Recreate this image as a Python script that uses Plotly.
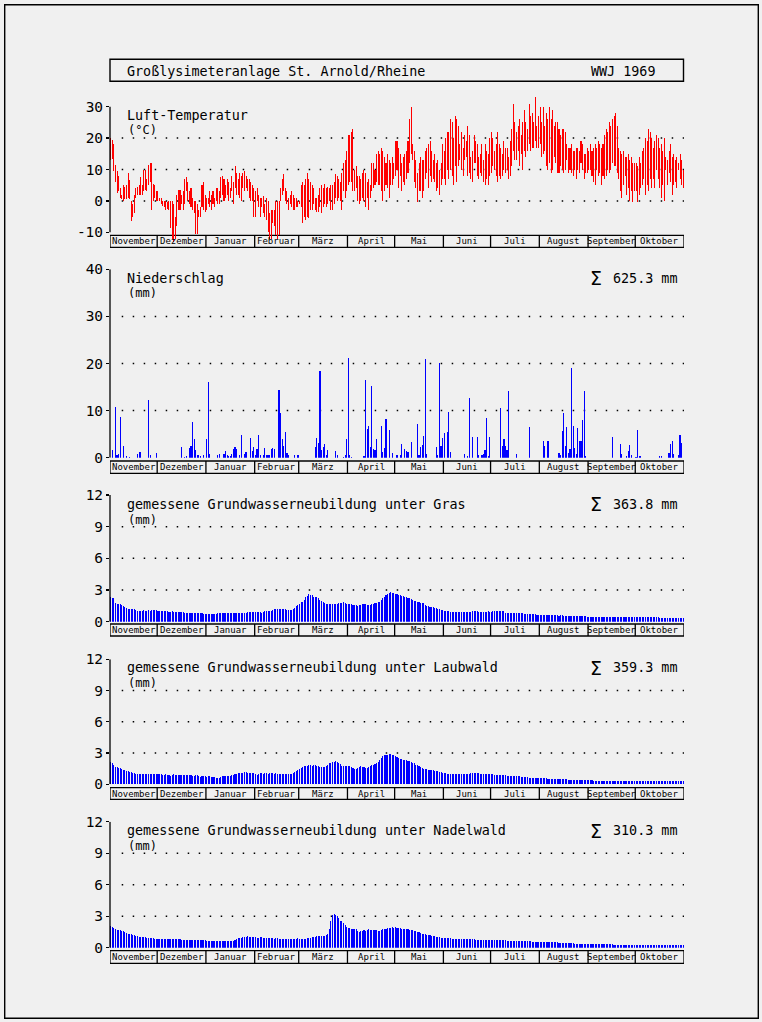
import plotly.graph_objects as go

# ---------------- data ----------------
months = ["November", "Dezember", "Januar", "Februar", "März", "April",
          "Mai", "Juni", "Juli", "August", "September", "Oktober"]
month_days = [30, 31, 31, 28, 31, 30, 31, 30, 31, 31, 30, 31]

# daily max / min air temperature (°C), Nov 1968 - Oct 1969
tmax = [
    20, 19.5, 18, 11.5, 9.5, 8, 4, 2, 5, 4.5, 5, 9, 6.5, 0, -1, 2, 4, 4.5, 5, 7.5, 5, 10, 10, 7, 11.5, 12, 12, 5.5, 5, 3,
    3, 1, 1, 0, 0, 0, -0.5, 0, 0, 0, -1, -5, 2, 3.5, 3.5, 2, 3, 7, 7.5, 6, 3, 4, 1, 0, 0, -1, -3, -2, 5, 6, 2,
    1, 1, 3, 2, 3, 1, 4, 4, 3, 7.5, 8, 7, 5, 7, 6, 4, 8, 6, 11, 9, 7, 9, 8, 9, 9.5, 8, 7, 7, 6, 5, 4,
    3, 4, 2, 1, 1, 1.5, -1, 1, 0, -4, -3, -3, -3, 0, 0, 0, 4, 7, 8.5, 4, 3, 1, 2, 3, 2, 1, 1, 0,
    0, 5, 6, 5, 7, 9, 7, 6, 5, 4, 1, 1, 2, 4, 5, 4, 5.5, 4, 4.5, 4, 5, 5, 6, 8.5, 8, 7, 6, 9, 12, 13, 16,
    21, 21, 22, 23, 10, 11, 8, 8, 7, 9, 10, 9, 6, 7, 5, 12, 12, 10, 15, 16, 15, 17, 16, 14, 12, 15, 13, 12, 14, 12,
    19, 19, 17, 15, 12, 14, 15, 16, 19, 26, 30, 18, 16, 13, 9, 12, 14, 13, 13, 16, 17, 18, 19, 16, 13, 15, 12, 13, 10, 12, 18,
    16, 20, 22, 22, 26, 25, 20, 27, 26, 24, 18, 22, 17, 21, 19, 24, 21, 14, 16, 21, 19, 18, 14, 15, 18, 13, 18, 16, 15, 20,
    22, 20, 16, 18, 22, 18, 17, 15, 19, 17, 17, 14, 19, 23, 31, 25, 22, 24, 26, 21, 25, 29, 25, 23, 31, 27, 28, 25, 33, 24, 27,
    30, 25, 30, 24, 28, 26, 30, 26, 29, 24, 25, 25, 23, 21, 23, 23, 22, 18, 17, 17, 18, 16, 16, 17, 17, 16, 19, 18, 15, 15, 17,
    16, 18, 16, 17, 18, 17, 19, 18, 17, 18, 21, 23, 22, 25, 24, 26, 27, 28, 24, 17, 16, 15, 16, 14, 14, 15, 13, 14, 12, 12,
    12, 11, 14, 12, 16, 17, 20, 19, 23, 22, 20, 17, 19, 21, 20, 17, 18, 16, 20, 14, 13, 16, 18, 14, 15, 13, 14, 12, 15, 13, 10,
]
tmin = [
    13, 13.5, 9.5, 6, 2.5, 3, 1, 0.5, 0, 0.5, 0.5, 1, 0.5, -6.5, -5, -4, 1, 2, 2, 2, 2, 3, 3.5, 3, 5, 6, -3, 0, 1, 0,
    0, 0, -1, -1.5, -2, -3, -2.5, -3, -8.5, -12, -13, -12, -8, -3, -3, -1, -3, -1, 3, 0, -1, -2, -3, -4, -10.5, -10.5, -5, -5, -2, -3, -3.5,
    -3, -1, -2, -3, -1, -2, 0, -1, -1, 1, 2, 0, 1, 2, 0, 1, 3, -1, 4, 2, 2, 1, 0, 4, 3, 4, 3, 1, 0, 0, -5,
    -5, 0, -2, -5, -2, -4, -5, -6, -10, -12, -12, -7, -8, -11, -12, -11, 0, 2, 3, 0, -1, -3, -1, -2, -3, -3, -2, -2,
    -1, -2, -7, -5, -6, -5, -5.5, -3, -3, -1, -3, -3.5, -3.5, -2, -4, -2, -1, -2, -1, 0, -3, -3, -1, 1, 0, 1, 0, -3, 3, 1, 3,
    5, 6, 6, 3, 3, 4, 0, -1, 0, 1, 0, -2, 1, -3, 1, 3, 4, 5, 6, 5, 5, 3, 0, 3, 5, 4, 1, 5, 5, 7,
    8, 10, 4, 8, 3, 6, 5, 7, 9, 12, 15, 13, 6, 4, -0.5, 3, 3, 1, 3, 7, 9, 4, 8, 6, 7, 6, 3, 4, 2, 5, 7,
    7, 5, 10, 7, 10, 8, 5, 11, 6, 11, 13, 10, 8, 13, 14, 8, 9, 7, 6, 12, 12, 8, 7, 9, 8, 6, 5, 7, 5, 8,
    9, 11, 10, 8, 6, 8, 7, 8, 10, 9, 10, 7, 8, 11, 16, 13, 13, 16, 11, 15, 10, 16, 14, 16, 18, 16, 17, 17, 19, 17, 17,
    18, 14, 15, 16, 11, 10, 12, 9, 10, 14, 12, 9, 9, 11, 10, 9, 10, 13, 9, 10, 9, 8, 10, 7, 10, 9, 12, 10, 7, 9, 9,
    10, 10, 8, 6, 5, 10, 8, 9, 5, 8, 7, 8, 10, 9, 10, 12, 11, 11, 9, 7, 3, 1, 5, 8, 2, 4, 0, 3, -0.5, 3,
    3, -0.5, 2, 4, 5, 7, 2, 5, 3, 7, 4, 7, 4, 10, 7, 4, 1, 5, 0, 10, 5, 9, 6, 2, 5, 6, 4, 10, 7, 5, 4,
]

# daily precipitation (mm): day of hydrological year (0 = 1 Nov) and amount
precip_day = [
    1, 3, 4, 5, 6, 8, 10, 12, 17, 18, 19, 24, 25, 29,
    45, 47, 48, 50, 51, 52, 53, 54, 55, 56, 57, 59,
    61, 62, 63, 68, 69, 72, 73, 74, 75, 76, 77, 78, 79, 80, 82, 83, 85, 86, 89, 90, 91,
    92, 93, 94, 95, 97, 98, 99, 100, 101, 102, 103, 104, 107, 108, 109, 110, 111, 112, 113, 117, 119,
    130, 131, 132, 133, 134, 135, 136, 137, 138, 143, 144, 148, 149, 150,
    151, 152, 153, 161, 162, 163, 164, 165, 166, 167, 168, 169, 172, 173, 174, 175, 177, 179,
    182, 184, 185, 187, 188, 189, 191, 195, 196, 197, 198, 199, 200, 201, 207, 208, 209, 210, 211,
    212, 214, 215, 216, 225, 227, 228, 230, 233, 234, 236, 237, 238, 239, 240, 241,
    248, 249, 250, 251, 252, 253, 258, 266,
    275, 276, 278, 285, 286, 287, 288, 289, 290, 291, 292, 293, 294, 295, 296, 297, 298, 299, 300, 301, 302,
    319, 324, 325, 328, 329, 330, 331,
    334, 335, 336, 337, 349, 350, 355, 356, 357, 358, 361, 362, 363,
]
precip_mm = [
    1.6, 10.8, 0.5, 0.7, 8.6, 2.5, 0.4, 0.2, 0.7, 1.2, 1.2, 12.2, 0.5, 1.0,
    2.3, 0.2, 0.3, 2.1, 2.4, 7.5, 3.9, 1.6, 0.6, 0.5, 0.3, 0.6,
    4.0, 16.0, 0.8, 0.5, 0.8, 0.8, 1.4, 0.5, 0.3, 0.3, 0.7, 1.8, 2.3, 1.8, 0.6, 4.8, 0.8, 1.2, 4.2, 1.5, 2.2,
    0.5, 1.8, 4.8, 0.6, 0.5, 2.0, 0.5, 0.5, 0.6, 1.8, 2.0, 1.8, 14.3, 9.5, 3.9, 2.5, 5.4, 1.0, 0.5, 0.5, 0.6,
    2.2, 4.2, 3.1, 18.4, 1.6, 2.3, 2.9, 0.6, 1.6, 1.4, 0.5, 0.2, 0.5, 4.0,
    21.1, 0.5, 0.2, 0.4, 16.5, 6.1, 6.8, 2.3, 15.2, 1.8, 1.6, 4.0, 6.8, 1.2, 2.0, 8.2, 5.9, 0.9,
    0.5, 0.6, 2.9, 1.9, 1.5, 1.3, 3.4, 7.2, 0.6, 2.3, 2.7, 4.6, 21.0, 0.8, 2.3, 0.5, 20.1, 2.5, 4.2,
    5.3, 5.5, 9.6, 1.3, 0.8, 0.4, 12.6, 4.5, 4.5, 0.5, 0.5, 0.8, 1.7, 8.4, 0.3, 4.3,
    10.6, 2.5, 4.0, 2.5, 1.7, 14.2, 0.8, 6.5,
    3.5, 2.5, 3.5, 0.9, 0.5, 5.7, 9.5, 2.4, 6.6, 0.9, 1.9, 19.0, 6.7, 2.1, 0.7, 6.2, 3.6, 3.5, 8.0, 14.2, 0.4,
    4.5, 2.9, 0.7, 0.4, 1.4, 2.7, 0.6,
    0.2, 5.9, 0.4, 0.4, 0.4, 0.4, 1.0, 2.9, 3.5, 0.8, 0.5, 4.8, 3.1,
]

# daily groundwater recharge (mm)
gw_gras = [
    2.3, 2.2, 2.25, 1.75, 1.7, 1.7, 1.65, 1.55, 1.45, 1.35, 1.3, 1.2, 1.2, 1.2, 1.2, 1.2, 1.15, 1.05, 1.05, 1.0, 1.05, 1.1, 1.05, 1.05, 1.1, 1.05, 1.1, 1.1, 1.1, 1.1,
    1.0, 1.0, 1.0, 1.0, 1.0, 1.0, 1.0, 0.95, 0.95, 1.0, 0.95, 0.9, 0.9, 0.9, 0.95, 0.9, 0.9, 0.85, 0.85, 0.85, 0.8, 0.85, 0.85, 0.8, 0.8, 0.8, 0.8, 0.8, 0.8, 0.75, 0.75,
    0.75, 0.75, 0.7, 0.7, 0.7, 0.7, 0.75, 0.8, 0.8, 0.8, 0.8, 0.85, 0.85, 0.85, 0.85, 0.85, 0.8, 0.85, 0.85, 0.85, 0.85, 0.85, 0.85, 0.85, 0.85, 0.85, 0.9, 0.9, 0.9, 0.9, 0.9,
    0.95, 0.95, 0.9, 0.95, 0.85, 0.95, 1.0, 1.05, 1.0, 1.0, 1.05, 1.15, 1.25, 1.2, 1.2, 1.25, 1.2, 1.25, 1.25, 1.2, 1.15, 1.15, 1.15, 1.15, 1.2, 1.3, 1.45, 1.55,
    1.7, 1.85, 1.9, 2.1, 2.3, 2.45, 2.65, 2.55, 2.5, 2.35, 2.3, 2.3, 2.2, 2.1, 1.95, 1.85, 1.8, 1.7, 1.65, 1.65, 1.65, 1.7, 1.7, 1.65, 1.7, 1.75, 1.75, 1.8, 1.85, 1.75, 1.7,
    1.7, 1.7, 1.65, 1.6, 1.6, 1.55, 1.5, 1.55, 1.6, 1.7, 1.7, 1.65, 1.6, 1.55, 1.6, 1.65, 1.7, 1.75, 1.8, 1.85, 1.9, 2.05, 2.2, 2.35, 2.5, 2.6, 2.7, 2.78, 2.75, 2.7,
    2.65, 2.6, 2.55, 2.5, 2.45, 2.4, 2.35, 2.3, 2.25, 2.2, 2.15, 2.1, 2.0, 1.95, 1.9, 1.85, 1.8, 1.8, 1.75, 1.6, 1.5, 1.45, 1.4, 1.35, 1.35, 1.3, 1.3, 1.25, 1.2, 1.15, 1.1,
    1.05, 1.0, 1.0, 1.0, 0.95, 0.95, 0.95, 0.95, 0.95, 0.95, 0.9, 0.9, 0.95, 0.95, 0.95, 0.95, 0.95, 0.95, 1.0, 1.0, 1.0, 1.0, 0.95, 0.95, 0.95, 0.95, 0.95, 0.95, 1.0, 0.95,
    0.95, 1.0, 1.0, 1.0, 1.05, 1.05, 1.0, 1.0, 1.05, 0.85, 0.85, 0.85, 0.85, 0.85, 0.85, 0.8, 0.8, 0.8, 0.8, 0.8, 0.8, 0.75, 0.75, 0.75, 0.7, 0.7, 0.7, 0.7, 0.7, 0.65, 0.65,
    0.65, 0.6, 0.6, 0.6, 0.6, 0.6, 0.6, 0.6, 0.6, 0.6, 0.6, 0.6, 0.55, 0.6, 0.6, 0.55, 0.55, 0.55, 0.55, 0.55, 0.5, 0.5, 0.5, 0.5, 0.5, 0.5, 0.5, 0.5, 0.5, 0.5, 0.45,
    0.45, 0.45, 0.45, 0.45, 0.45, 0.45, 0.4, 0.4, 0.45, 0.45, 0.45, 0.45, 0.45, 0.45, 0.45, 0.4, 0.4, 0.4, 0.4, 0.4, 0.4, 0.4, 0.4, 0.4, 0.4, 0.4, 0.4, 0.4, 0.4, 0.4,
    0.4, 0.4, 0.4, 0.4, 0.4, 0.4, 0.4, 0.4, 0.4, 0.4, 0.4, 0.4, 0.4, 0.4, 0.4, 0.35, 0.35, 0.35, 0.35, 0.35, 0.35, 0.35, 0.35, 0.35, 0.35, 0.35, 0.35, 0.35, 0.35, 0.35, 0.35,
]
gw_laubwald = [
    2.1, 2.05, 1.85, 1.7, 1.65, 1.6, 1.6, 1.5, 1.4, 1.35, 1.3, 1.25, 1.2, 1.15, 1.1, 1.05, 1.0, 1.0, 1.0, 0.95, 0.95, 0.95, 1.0, 1.0, 1.0, 0.95, 0.95, 0.95, 1.0, 0.95,
    1.0, 1.0, 0.95, 0.9, 0.9, 0.95, 0.9, 0.85, 0.8, 0.85, 0.95, 0.9, 0.9, 0.85, 0.85, 0.85, 0.85, 0.85, 0.85, 0.85, 0.85, 0.85, 0.8, 0.8, 0.85, 0.85, 0.75, 0.7, 0.75, 0.75, 0.75,
    0.7, 0.75, 0.75, 0.7, 0.7, 0.7, 0.65, 0.6, 0.65, 0.7, 0.75, 0.75, 0.75, 0.8, 0.8, 0.75, 0.85, 0.85, 0.95, 1.0, 1.05, 1.05, 1.1, 1.1, 1.15, 1.15, 1.1, 1.1, 1.1, 1.05, 1.05,
    0.95, 0.9, 1.0, 1.05, 1.05, 1.0, 1.05, 1.05, 1.0, 1.05, 1.05, 1.05, 1.0, 1.05, 1.0, 1.0, 1.0, 1.0, 1.0, 1.0, 1.0, 1.0, 1.0, 1.0, 1.05, 1.15, 1.25, 1.35,
    1.45, 1.55, 1.7, 1.75, 1.8, 1.8, 1.85, 1.85, 1.8, 1.85, 1.9, 1.8, 1.75, 1.7, 1.7, 1.65, 1.7, 1.8, 1.9, 2.0, 2.05, 2.1, 2.15, 2.2, 2.15, 2.05, 1.95, 1.8, 1.75, 1.75, 1.8,
    1.8, 1.75, 1.7, 1.6, 1.5, 1.5, 1.6, 1.65, 1.75, 1.7, 1.65, 1.6, 1.6, 1.7, 1.75, 1.85, 1.85, 1.95, 2.05, 2.15, 2.3, 2.5, 2.7, 2.8, 2.85, 2.85, 2.9, 2.9, 2.85, 2.8,
    2.7, 2.6, 2.5, 2.45, 2.4, 2.35, 2.3, 2.3, 2.25, 2.2, 2.1, 2.05, 2.0, 1.9, 1.85, 1.8, 1.7, 1.6, 1.5, 1.45, 1.45, 1.4, 1.4, 1.35, 1.35, 1.3, 1.3, 1.25, 1.2, 1.15, 1.1,
    1.05, 1.05, 1.0, 1.0, 1.0, 0.95, 0.95, 0.95, 0.95, 0.95, 0.95, 0.95, 0.95, 0.95, 1.0, 1.0, 1.0, 1.05, 1.05, 1.1, 1.05, 1.05, 1.05, 1.0, 1.0, 1.0, 1.0, 1.0, 0.95, 0.95,
    0.95, 0.95, 0.9, 0.9, 0.9, 0.85, 0.85, 0.85, 0.85, 0.85, 0.8, 0.8, 0.8, 0.8, 0.8, 0.75, 0.75, 0.75, 0.75, 0.7, 0.7, 0.7, 0.7, 0.7, 0.65, 0.65, 0.65, 0.65, 0.6, 0.6, 0.6,
    0.6, 0.6, 0.6, 0.6, 0.6, 0.55, 0.55, 0.55, 0.55, 0.55, 0.5, 0.5, 0.5, 0.5, 0.5, 0.5, 0.5, 0.5, 0.45, 0.45, 0.45, 0.45, 0.45, 0.45, 0.45, 0.45, 0.4, 0.4, 0.4, 0.4, 0.4,
    0.4, 0.4, 0.4, 0.35, 0.35, 0.35, 0.35, 0.35, 0.35, 0.35, 0.35, 0.35, 0.35, 0.35, 0.35, 0.35, 0.35, 0.35, 0.35, 0.35, 0.35, 0.35, 0.35, 0.35, 0.3, 0.3, 0.3, 0.3, 0.3, 0.3,
    0.3, 0.3, 0.3, 0.3, 0.3, 0.3, 0.3, 0.3, 0.3, 0.3, 0.3, 0.3, 0.3, 0.3, 0.3, 0.3, 0.3, 0.3, 0.3, 0.3, 0.3, 0.3, 0.3, 0.3, 0.3, 0.3, 0.3, 0.3, 0.3, 0.3, 0.35,
]
gw_nadelwald = [
    2.05, 2.0, 1.9, 1.8, 1.7, 1.7, 1.65, 1.6, 1.55, 1.5, 1.4, 1.35, 1.3, 1.3, 1.25, 1.2, 1.15, 1.1, 1.05, 1.0, 1.0, 1.0, 1.0, 0.95, 0.9, 0.9, 0.9, 0.9, 0.85, 0.85,
    0.85, 0.8, 0.8, 0.8, 0.8, 0.8, 0.8, 0.8, 0.8, 0.8, 0.8, 0.8, 0.8, 0.8, 0.8, 0.75, 0.75, 0.75, 0.75, 0.75, 0.75, 0.75, 0.75, 0.75, 0.7, 0.7, 0.7, 0.7, 0.7, 0.7, 0.7,
    0.65, 0.65, 0.65, 0.65, 0.65, 0.65, 0.65, 0.65, 0.65, 0.65, 0.65, 0.65, 0.65, 0.65, 0.6, 0.65, 0.65, 0.65, 0.7, 0.85, 0.9, 0.95, 0.95, 1.0, 1.0, 1.05, 1.1, 1.0, 1.05, 1.0, 1.0,
    1.05, 0.95, 0.9, 1.0, 1.0, 0.95, 0.95, 0.9, 0.9, 0.95, 0.9, 0.9, 0.85, 0.9, 0.9, 0.85, 0.85, 0.85, 0.85, 0.85, 0.85, 0.85, 0.85, 0.85, 0.85, 0.85, 0.85, 0.9,
    0.85, 0.85, 0.85, 0.85, 0.85, 0.9, 0.9, 0.95, 1.0, 1.0, 1.05, 1.1, 1.1, 1.1, 1.1, 1.1, 1.15, 1.2, 1.3, 1.75, 2.5, 3.1, 3.25, 3.1, 3.05, 2.8, 2.55, 2.5, 2.35, 2.2, 2.0,
    1.9, 1.85, 1.8, 1.8, 1.75, 1.75, 1.6, 1.5, 1.6, 1.6, 1.65, 1.6, 1.7, 1.75, 1.7, 1.7, 1.65, 1.65, 1.65, 1.6, 1.6, 1.65, 1.8, 1.75, 1.8, 1.85, 1.9, 1.9, 1.95, 1.9,
    1.95, 1.9, 1.9, 1.85, 1.8, 1.8, 1.75, 1.75, 1.75, 1.7, 1.7, 1.65, 1.6, 1.55, 1.5, 1.45, 1.4, 1.35, 1.3, 1.3, 1.25, 1.2, 1.2, 1.15, 1.1, 1.1, 1.05, 1.0, 1.0, 0.95, 0.95,
    0.9, 0.9, 0.9, 0.9, 0.9, 0.85, 0.85, 0.85, 0.85, 0.85, 0.85, 0.85, 0.85, 0.8, 0.8, 0.8, 0.8, 0.8, 0.8, 0.8, 0.75, 0.75, 0.75, 0.75, 0.75, 0.75, 0.75, 0.75, 0.75, 0.7,
    0.7, 0.7, 0.7, 0.7, 0.7, 0.7, 0.7, 0.7, 0.7, 0.7, 0.65, 0.65, 0.65, 0.65, 0.65, 0.65, 0.65, 0.6, 0.6, 0.6, 0.6, 0.6, 0.6, 0.6, 0.6, 0.6, 0.55, 0.55, 0.55, 0.55, 0.55,
    0.55, 0.5, 0.5, 0.5, 0.5, 0.5, 0.5, 0.5, 0.5, 0.5, 0.5, 0.5, 0.45, 0.45, 0.45, 0.45, 0.45, 0.45, 0.45, 0.45, 0.45, 0.45, 0.4, 0.4, 0.4, 0.4, 0.4, 0.4, 0.4, 0.4, 0.4,
    0.4, 0.4, 0.4, 0.4, 0.35, 0.35, 0.35, 0.35, 0.35, 0.35, 0.35, 0.35, 0.35, 0.35, 0.35, 0.35, 0.3, 0.3, 0.3, 0.3, 0.3, 0.3, 0.3, 0.3, 0.3, 0.3, 0.3, 0.3, 0.3, 0.3,
    0.3, 0.3, 0.3, 0.3, 0.3, 0.3, 0.3, 0.3, 0.25, 0.25, 0.3, 0.3, 0.3, 0.25, 0.25, 0.25, 0.25, 0.25, 0.25, 0.25, 0.25, 0.25, 0.25, 0.25, 0.25, 0.25, 0.25, 0.25, 0.25, 0.25, 0.25,
]

title_left = "Großlysimeteranlage St. Arnold/Rheine"
title_right = "WWJ 1969"
panel_titles = ["Luft-Temperatur", "Niederschlag",
                "gemessene Grundwasserneubildung unter Gras",
                "gemessene Grundwasserneubildung unter Laubwald",
                "gemessene Grundwasserneubildung unter Nadelwald"]
panel_units = ["(°C)", "(mm)", "(mm)", "(mm)", "(mm)"]
panel_sums = [None, "625.3 mm", "363.8 mm", "359.3 mm", "310.3 mm"]
y_axis_span = [(-10, 30), (0, 40), (0, 12), (0, 12), (0, 12)]
y_ticks = [[-10, 0, 10, 20, 30], [0, 10, 20, 30, 40], [0, 3, 6, 9, 12], [0, 3, 6, 9, 12], [0, 3, 6, 9, 12]]
y_grid = [[0, 10, 20], [10, 20, 30], [3, 6, 9], [3, 6, 9], [3, 6, 9]]

# ---------------- layout geometry (pixels) ----------------
W, H = 762, 1022
X0, X1 = 110, 684
panels_px = [  # (px of axis top value, px of axis bottom value, strip_top, strip_bottom)
    (106.7, 232.3, 235.3, 247.3),
    (269.3, 457.7, 461.0, 473.3),
    (495.0, 621.7, 624.0, 636.0),
    (659.3, 784.3, 787.7, 799.3),
    (821.7, 947.7, 950.7, 963.3),
]
# extra head-room (in data units) so temperature bars beyond the axis span stay visible
pad_units = [(4.0, 4.5), (0, 0), (0, 0), (0, 0), (0, 0)]
label_px = [(115.0, 130.0), (278.3, 293.3), (504.3, 520.0), (667.7, 682.7), (830.7, 846.0)]

def px(x):
    return x / W

def py(y):
    return 1 - y / H

FONT = "DejaVu Sans Mono"
RED = "#ff0000"
BLUE = "#0000ff"
BLK = "#000000"

NDAYS = sum(month_days)
days = list(range(NDAYS))
xc = [d + 0.5 for d in days]

fig = go.Figure()

# temperature: bars from daily min to daily max
fig.add_trace(go.Bar(x=xc, y=[a - b for a, b in zip(tmax, tmin)], base=tmin,
                     width=0.66, marker=dict(color=RED, line=dict(width=0)),
                     xaxis="x", yaxis="y", hoverinfo="skip"))
# precipitation
fig.add_trace(go.Bar(x=[d + 0.5 for d in precip_day], y=precip_mm, width=0.75,
                     marker=dict(color=BLUE, line=dict(width=0)),
                     xaxis="x2", yaxis="y2", hoverinfo="skip"))
for i, series in enumerate([gw_gras, gw_laubwald, gw_nadelwald]):
    fig.add_trace(go.Bar(x=xc, y=series, width=0.68,
                         marker=dict(color=BLUE, line=dict(width=0)),
                         xaxis=f"x{i + 3}", yaxis=f"y{i + 3}", hoverinfo="skip"))

shapes = []
annotations = []

# outer border and title box
shapes.append(dict(type="rect", xref="paper", yref="paper",
                   x0=px(4.7), x1=px(758.3), y0=py(1018.3), y1=py(4.7),
                   line=dict(color=BLK, width=1.4)))
shapes.append(dict(type="rect", xref="paper", yref="paper",
                   x0=px(110), x1=px(683.5), y0=py(81.3), y1=py(59.3),
                   line=dict(color=BLK, width=1.4)))
annotations.append(dict(text=title_left, xref="paper", yref="paper", x=px(124.5), y=py(71),
                        xanchor="left", yanchor="middle", showarrow=False,
                        font=dict(family=FONT, size=13.4, color=BLK)))
annotations.append(dict(text=title_right, xref="paper", yref="paper", x=px(588.5), y=py(71),
                        xanchor="left", yanchor="middle", showarrow=False,
                        font=dict(family=FONT, size=13.4, color=BLK)))

month_edges = [0]
for m in month_days:
    month_edges.append(month_edges[-1] + m)

layout_axes = {}
for i in range(5):
    top, bot, st, sb = panels_px[i]
    n = "" if i == 0 else str(i + 1)
    lo, hi = y_axis_span[i]
    pad_lo, pad_hi = pad_units[i]
    ppu = (bot - top) / (hi - lo)
    dom_top = top - pad_hi * ppu
    dom_bot = bot + pad_lo * ppu
    layout_axes[f"xaxis{n}"] = dict(domain=[px(X0), px(X1)], range=[0, NDAYS],
                                    anchor=f"y{n}", visible=False, fixedrange=True)
    layout_axes[f"yaxis{n}"] = dict(domain=[py(dom_bot), py(dom_top)], range=[lo - pad_lo, hi + pad_hi],
                                    anchor=f"x{n}", tickvals=y_ticks[i],
                                    ticktext=[str(v) for v in y_ticks[i]],
                                    ticks="outside", ticklen=3, tickwidth=1.3, tickcolor=BLK,
                                    showline=False, showgrid=False, zeroline=False, fixedrange=True,
                                    automargin=False,
                                    tickfont=dict(family=FONT, size=14.5, color=BLK))
    xr = f"x{n}"
    yr = f"y{n}"
    # y axis line over the labelled span only
    shapes.append(dict(type="line", xref=f"{xr} domain", yref=yr, x0=0, x1=0, y0=lo, y1=hi,
                       line=dict(color=BLK, width=1.3)))
    # dotted grid lines
    for g in y_grid[i]:
        shapes.append(dict(type="line", xref=f"{xr} domain", yref=yr,
                           x0=0.0204, x1=1.0, y0=g, y1=g, layer="below",
                           line=dict(color=BLK, width=1.5, dash="1.5px,9.5px")))
    # month strip
    shapes.append(dict(type="rect", xref=xr, yref="paper", x0=0, x1=NDAYS,
                       y0=py(sb), y1=py(st), line=dict(color=BLK, width=1.3), layer="below"))
    for e in month_edges[1:-1]:
        shapes.append(dict(type="line", xref=xr, yref="paper", x0=e, x1=e,
                           y0=py(sb), y1=py(st), line=dict(color=BLK, width=1.3), layer="below"))
    for k, name in enumerate(months):
        annotations.append(dict(text=name, xref=xr, yref="paper",
                                x=(month_edges[k] + month_edges[k + 1]) / 2,
                                y=py((st + sb) / 2), xanchor="center", yanchor="middle",
                                showarrow=False, font=dict(family=FONT, size=9, color=BLK)))
    # panel labels
    l1, l2 = label_px[i]
    annotations.append(dict(text=panel_titles[i], xref="paper", yref="paper",
                            x=px(124.5), y=py(l1), xanchor="left", yanchor="middle",
                            showarrow=False, font=dict(family=FONT, size=13.4, color=BLK)))
    annotations.append(dict(text=panel_units[i], xref="paper", yref="paper",
                            x=px(126), y=py(l2), xanchor="left", yanchor="middle",
                            showarrow=False, font=dict(family=FONT, size=12, color=BLK)))
    if panel_sums[i]:
        annotations.append(dict(text="Σ", xref="paper", yref="paper",
                                x=px(588), y=py(l1), xanchor="left", yanchor="middle",
                                showarrow=False, font=dict(family="DejaVu Sans", size=19, color=BLK)))
        annotations.append(dict(text=panel_sums[i], xref="paper", yref="paper",
                                x=px(610.5), y=py(l1), xanchor="left", yanchor="middle",
                                showarrow=False, font=dict(family=FONT, size=13.4, color=BLK)))

fig.update_layout(
    width=W, height=H, margin=dict(l=0, r=0, t=0, b=0, pad=0, autoexpand=False),
    paper_bgcolor="#f0f0f0", plot_bgcolor="rgba(0,0,0,0)",
    showlegend=False, bargap=0, shapes=shapes, annotations=annotations,
    **layout_axes,
)

fig.write_html("out.html", config={"displayModeBar": False, "staticPlot": True},
               post_script="document.body.style.margin='0';document.body.style.padding='0';"
                           "document.body.style.overflow='hidden';"
                           "document.body.style.background='#f0f0f0';")
